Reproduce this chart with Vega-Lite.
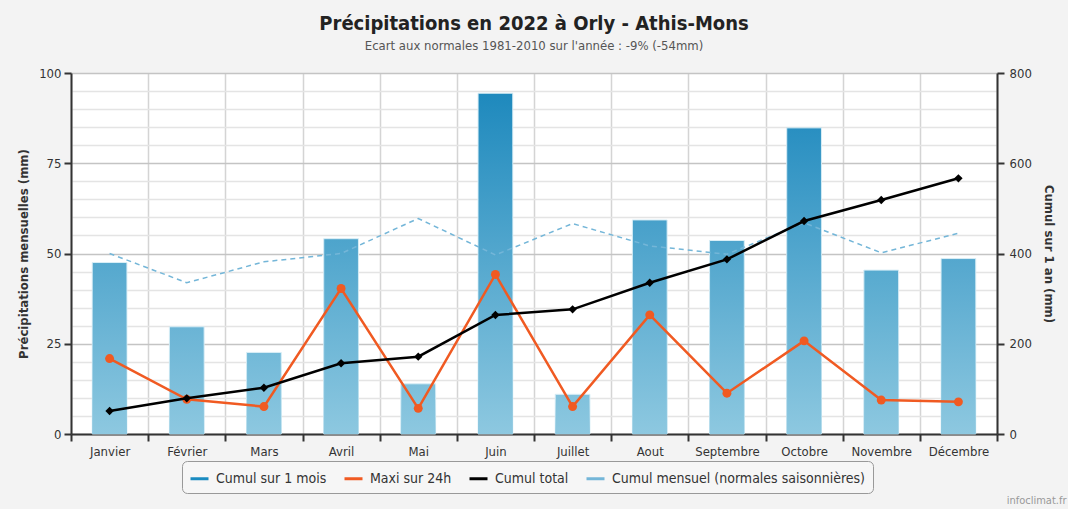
{
  "$schema": "https://vega.github.io/schema/vega-lite/v6.json",
  "width": 926,
  "height": 361,
  "autosize": "none",
  "padding": {"left": 71, "top": 73, "right": 71, "bottom": 75},
  "background": "#f3f3f3",
  "config": {
    "font": "DejaVu Sans Condensed",
    "view": {"fill": "#ffffff", "stroke": null},
    "axis": {"labelFont": "DejaVu Sans Condensed", "titleFont": "DejaVu Sans Condensed", "labelColor": "#333333", "labelFontSize": 13, "titleColor": "#333333", "titleFontSize": 13, "titleFontWeight": "bold"},
    "legend": {
      "orient": "none", "legendX": 111, "legendY": 388, "direction": "horizontal",
      "strokeColor": "#999999", "cornerRadius": 5, "padding": 7, "fillColor": "#f6f6f6",
      "labelFont": "DejaVu Sans Condensed", "labelFontSize": 14, "labelColor": "#333333", "labelLimit": 400,
      "symbolType": "stroke", "symbolSize": 324, "labelOffset": 6, "columnPadding": 11, "symbolStrokeWidth": 3
    }
  },
  "title": {
    "text": "Précipitations en 2022 à Orly - Athis-Mons",
    "subtitle": "Ecart aux normales 1981-2010 sur l'année : -9% (-54mm)",
    "anchor": "middle", "frame": "group",
    "font": "DejaVu Sans Condensed", "fontSize": 20, "fontWeight": "bold", "color": "#222222",
    "subtitleFont": "DejaVu Sans Condensed", "subtitleFontSize": 13, "subtitleColor": "#555555", "subtitlePadding": 6,
    "offset": 14
  },
  "data": {"values": [
    {"mois": "Janvier", "cumul_mois": 47.5, "maxi_24h": 20.9, "cumul_total": 51, "normale": 50.0},
    {"mois": "Février", "cumul_mois": 29.7, "maxi_24h": 9.6, "cumul_total": 79, "normale": 41.9},
    {"mois": "Mars", "cumul_mois": 22.6, "maxi_24h": 7.6, "cumul_total": 102.6, "normale": 47.7},
    {"mois": "Avril", "cumul_mois": 54.1, "maxi_24h": 40.3, "cumul_total": 156.7, "normale": 50.0},
    {"mois": "Mai", "cumul_mois": 13.9, "maxi_24h": 7.1, "cumul_total": 171.4, "normale": 59.7},
    {"mois": "Juin", "cumul_mois": 94.4, "maxi_24h": 44.2, "cumul_total": 263.7, "normale": 49.6},
    {"mois": "Juillet", "cumul_mois": 11.0, "maxi_24h": 7.6, "cumul_total": 276.3, "normale": 58.3},
    {"mois": "Aout", "cumul_mois": 59.3, "maxi_24h": 33.0, "cumul_total": 335.3, "normale": 52.1},
    {"mois": "Septembre", "cumul_mois": 53.6, "maxi_24h": 11.3, "cumul_total": 387, "normale": 49.8},
    {"mois": "Octobre", "cumul_mois": 84.8, "maxi_24h": 25.8, "cumul_total": 472, "normale": 58.5},
    {"mois": "Novembre", "cumul_mois": 45.4, "maxi_24h": 9.4, "cumul_total": 518.6, "normale": 50.2},
    {"mois": "Décembre", "cumul_mois": 48.6, "maxi_24h": 8.9, "cumul_total": 566.6, "normale": 55.6}
  ]},
  "layer": [
    {
      "mark": {"type": "bar", "width": {"band": 0.45}, "stroke": "#d9eef6", "strokeWidth": 1},
      "encoding": {
        "x": {
          "field": "mois", "type": "nominal", "sort": null,
          "scale": {"paddingInner": 0, "paddingOuter": 0},
          "axis": {
            "title": "infoclimat.fr", "titleX": 995, "titleY": 69, "titleAlign": "right", "titleBaseline": "alphabetic",
            "titleFontSize": 11, "titleColor": "#999999", "titleFontWeight": "normal",
            "labelAngle": 0, "labelPadding": 4, "tickBand": "extent",
            "grid": true, "gridColor": "#d4d4d4", "gridWidth": 1.5,
            "tickSize": 7, "tickWidth": 2, "tickColor": "#333333",
            "domainColor": "#333333", "domainWidth": 2
          }
        },
        "y": {
          "field": "cumul_mois", "type": "quantitative",
          "scale": {"domain": [0, 100], "nice": false},
          "axis": {
            "title": "Précipitations mensuelles (mm)",
            "values": [0, 5, 10, 15, 20, 25, 30, 35, 40, 45, 50, 55, 60, 65, 70, 75, 80, 85, 90, 95, 100],
            "labelExpr": "datum.value % 25 === 0 ? datum.label : ''",
            "grid": true,
            "gridColor": {"condition": {"test": "datum.value % 25 === 0", "value": "#c4c4c4"}, "value": "#e4e4e4"},
            "gridWidth": 1.5,
            "tickColor": {"condition": {"test": "datum.value % 25 === 0", "value": "#333333"}, "value": "transparent"},
            "tickSize": 7, "tickWidth": 2, "labelPadding": 3,
            "domainColor": "#333333", "domainWidth": 2, "titlePadding": 8
          }
        },
        "fill": {
          "field": "cumul_mois", "type": "quantitative", "legend": null,
          "scale": {"domain": [0, 100], "range": ["#8dc8e0", "#1785bb"], "interpolate": "rgb"}
        }
      }
    },
    {
      "mark": {
        "type": "bar", "width": {"band": 0.45},
        "color": {"gradient": "linear", "x1": 0, "y1": 0, "x2": 0, "y2": 1,
          "stops": [{"offset": 0, "color": "rgba(141,200,224,0)"}, {"offset": 1, "color": "rgba(141,200,224,1)"}]}
      },
      "encoding": {
        "x": {"field": "mois", "type": "nominal", "sort": null},
        "y": {"field": "cumul_mois", "type": "quantitative", "axis": null, "scale": {"domain": [0, 100], "nice": false}}
      }
    },
    {
      "mark": {"type": "line", "strokeWidth": 1.5, "strokeDash": [5, 4]},
      "encoding": {
        "x": {"field": "mois", "type": "nominal", "sort": null},
        "y": {"field": "normale", "type": "quantitative", "axis": null, "scale": {"domain": [0, 100], "nice": false}},
        "color": {
          "datum": "Cumul mensuel (normales saisonnières)", "type": "nominal",
          "scale": {"domain": ["Cumul sur 1 mois", "Maxi sur 24h", "Cumul total", "Cumul mensuel (normales saisonnières)"],
                    "range": ["#1a8bc0", "#f05a22", "#000000", "#74b6d8"]},
          "legend": {"title": null}
        }
      }
    },
    {
      "mark": {"type": "line", "strokeWidth": 2.5, "point": {"filled": true, "size": 80}},
      "encoding": {
        "x": {"field": "mois", "type": "nominal", "sort": null},
        "y": {"field": "maxi_24h", "type": "quantitative", "axis": null, "scale": {"domain": [0, 100], "nice": false}},
        "color": {"datum": "Maxi sur 24h", "type": "nominal"}
      }
    },
    {
      "mark": {"type": "line", "strokeWidth": 2.5, "point": {"filled": true, "shape": "diamond", "size": 70}},
      "encoding": {
        "x": {"field": "mois", "type": "nominal", "sort": null},
        "y": {
          "field": "cumul_total", "type": "quantitative",
          "scale": {"domain": [0, 800], "nice": false},
          "axis": {
            "orient": "right", "title": "Cumul sur 1 an (mm)", "values": [0, 200, 400, 600, 800],
            "grid": false, "tickSize": 7, "tickWidth": 2, "tickColor": "#333333", "labelPadding": 5,
            "domainColor": "#333333", "domainWidth": 2, "titlePadding": 10
          }
        },
        "color": {"datum": "Cumul total", "type": "nominal"}
      }
    }
  ],
  "resolve": {"scale": {"y": "independent"}}
}
